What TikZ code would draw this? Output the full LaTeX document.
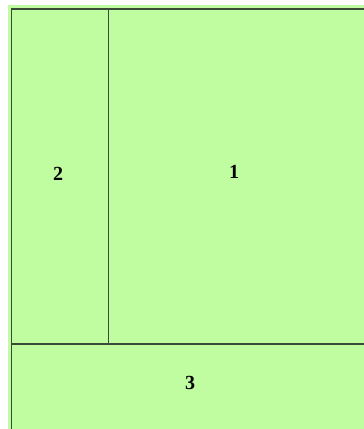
\documentclass[tikz,border=0pt]{standalone}
\usepackage{fontspec}
\setmainfont{Liberation Serif}
\definecolor{plotgreen}{RGB}{192,252,160}
\definecolor{edgegreen}{RGB}{55,75,55}
\begin{document}
\begin{tikzpicture}[x=1pt,y=-1pt]
\useasboundingbox (0,0) rectangle (364,429);
\fill[plotgreen] (8,5) rectangle (364,429);

\draw[edgegreen,line width=1.6pt] (11.5,429) -- (11.5,9) -- (364,9);
\draw[edgegreen,line width=1.6pt] (108.5,9) -- (108.5,344);
\draw[edgegreen,line width=1.6pt] (11.5,344) -- (364,344);

\node (two) at (58,174) {\fontsize{20}{24}\selectfont\bfseries 2};
\node (one) at (234,172) {\fontsize{20}{24}\selectfont\bfseries 1};
\node (three) at (190,383) {\fontsize{20}{24}\selectfont\bfseries 3};
\end{tikzpicture}
\end{document}
